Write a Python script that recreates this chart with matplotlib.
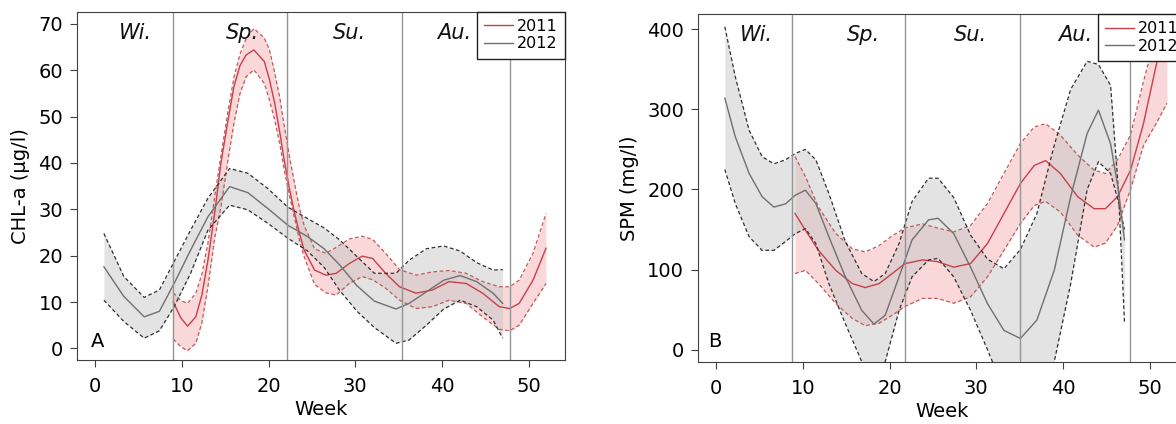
import matplotlib
matplotlib.use("Agg")
import matplotlib.pyplot as plt

# ---- panel A: CHL-a (ug/l) ----
chl_12_wk = [1, 3.3, 5.65, 7.4, 9.1, 11, 13, 15.5, 17.6, 19.9, 22.2, 24.5, 26.4, 28.2, 30.2, 32.2, 34.7, 36.2, 38.2, 40.2, 42.1, 44, 45.9, 47]
chl_12_mid = [17.6, 11.2, 6.8, 8.0, 14, 21.2, 28.4, 34.9, 33.6, 30.2, 26.6, 24.1, 21.5, 18.0, 13.5, 10.2, 8.5, 9.7, 12.2, 14.7, 15.7, 14.4, 11.9, 9.7]
chl_12_up = [24.8, 15.5, 11, 12.6, 18.7, 25.5, 32.4, 38.8, 37.8, 34.5, 30.5, 28.0, 26.0, 23.4, 19.8, 16.2, 16.2, 19.0, 21.5, 22.1, 21.0, 18.5, 16.9, 17]
chl_12_lo = [10.4, 5.8, 2.2, 3.8, 9, 16.2, 25.5, 30.9, 29.9, 27.0, 23.8, 21.0, 17.5, 12.5, 8.0, 4.5, 1.1, 1.8, 5.0, 8.5, 10.4, 9.0, 6.1, 2.2]

chl_11_wk = [9, 9.9, 10.65, 11.6, 12.3, 13, 13.8, 14.5, 15.3, 16, 16.7, 17.4, 18.3, 19.5, 20.1, 20.7, 21.3, 21.8, 22.4, 23, 23.6, 24.1, 25.3, 26.6, 27.8, 29.3, 30.8, 32, 33.5, 35.1, 37, 38.9, 40.8, 42.8, 44.7, 46.6, 47.8, 48.9, 50.5, 52]
chl_11_mid = [10, 6.5, 4.8, 6.8, 11.5, 19, 29.5, 40, 49, 56.5, 61, 63.3, 64.4, 61.9, 58, 52.9, 46.5, 40.6, 34.5, 29.1, 24.6, 21.2, 16.9, 15.8, 16.2, 18.3, 19.9, 19.4, 16.2, 13.3, 11.9, 12.6, 14.4, 14.0, 11.9, 9.0, 8.6, 9.7, 14.7, 21.6]
chl_11_up = [12, 10.3, 9.7, 11.9, 16, 22.7, 33, 41.5, 51, 58.5, 63.5, 66.8, 69, 67, 64.4, 59.5, 54, 48, 41.5, 35.5, 30, 26.5, 21.5, 20.5, 21.8, 23.6, 24.2, 23.5, 20.5, 17.0, 15.8, 16.5, 16.8, 16.2, 14.4, 13.3, 13.3, 14.7, 20.5, 29.1]
chl_11_lo = [2.0, 0.3, -0.5, 1.1, 5.5, 13.3, 24, 30.5, 40.5, 48.6, 55, 58.6, 60.1, 57.2, 53.5, 49.3, 44, 38.5, 33, 28, 23, 19.8, 13.8, 12.0, 11.5, 14.0, 15.5, 14.8, 13.0, 10.4, 8.6, 9.0, 10.4, 9.7, 6.8, 4.1, 3.8, 5.0, 9.7, 14.0]

# ---- panel B: SPM (mg/l) ----
spm_12_wk = [1, 2.2, 3.8, 5.3, 6.65, 8, 9.15, 10.3, 11.5, 13, 14.9, 16.8, 18.2, 19.5, 21.1, 22.6, 24.5, 25.6, 27.4, 29.35, 31.3, 33.2, 35.1, 37, 39, 40.9, 42.8, 44.1, 45.5, 46.4, 47.1]
spm_12_mid = [314, 266, 220, 191, 178, 182, 193, 199, 182.5, 141, 91, 49, 32, 43, 91, 137, 162, 164, 145, 103, 57.5, 24, 14, 37, 99, 191, 270, 299, 257, 200, 137]
spm_12_up = [403, 341, 274, 241, 232, 237, 245, 250, 237, 195, 135, 95, 85, 95, 132.5, 185, 214, 214, 190, 143, 113, 101, 125, 170, 255, 325, 360, 356, 330, 200, 35]
spm_12_lo = [225, 182.5, 141, 124, 124, 135, 145, 151, 132.5, 82.5, 32.5, -15, -40, -15, 49, 91, 112, 114, 91, 49, 0, -50, -85, -75, -15, 82.5, 200, 234.6, 220, 185, 150]

spm_11_wk = [9.1, 10.3, 11.8, 13.8, 15.7, 17.2, 18.8, 20.3, 21.8, 23.8, 25.5, 27.4, 29.35, 31.3, 33.2, 35.1, 36.7, 38, 39.7, 41.7, 43.6, 44.9, 46.3, 47.8, 49.3, 50.9, 52]
spm_11_mid = [170, 149, 124, 99, 82.5, 77.5, 82.5, 95, 107.5, 112, 110, 103, 107.5, 132.5, 170, 207.5, 230, 236, 220, 191, 176, 176, 191, 224, 282.5, 362, 430]
spm_11_up = [241, 216, 178, 145, 126, 122, 130, 142, 152, 157, 152, 147, 155, 182.5, 220, 257.5, 278, 282, 268, 243, 224, 220, 237, 268, 335, 400, 470]
spm_11_lo = [95, 99, 82.5, 57.5, 39, 30, 33, 43, 54, 64, 64, 58, 66, 91, 124, 157.5, 180, 185, 172, 143, 128, 133, 155, 200, 255, 285, 307.5]

season_names = ["Wi.", "Sp.", "Su.", "Au."]
season_pos = [4.7, 17, 29.35, 41.4]
bounds_a = [9.0, 22.07, 35.4, 47.9]
bounds_b = [8.77, 21.75, 35.1, 47.7]

RED = "#c8404a"
RED_D = "#c05a5a"
GREY = "#707070"
GREY_D = "#303030"


def panel(ax, wk11, mid11, up11, lo11, wk12, mid12, up12, lo12, bounds, ylim, yticks, ylabel, letter, lx, ly):
    # 2011 first, 2012 band sits over it
    ax.fill_between(wk11, lo11, up11, color="#f7b9bb", alpha=0.55, lw=0)
    ax.plot(wk11, up11, color=RED_D, ls="--", lw=0.9, dashes=(3, 2))
    ax.plot(wk11, lo11, color=RED_D, ls="--", lw=0.9, dashes=(3, 2))
    ax.plot(wk11, mid11, color=RED, lw=1.0, label="2011")
    ax.fill_between(wk12, lo12, up12, color="#c8c8c8", alpha=0.5, lw=0)
    ax.plot(wk12, up12, color=GREY_D, ls="--", lw=0.9, dashes=(3, 2))
    ax.plot(wk12, lo12, color=GREY_D, ls="--", lw=0.9, dashes=(3, 2))
    ax.plot(wk12, mid12, color=GREY, lw=1.0, label="2012")

    for b in bounds:
        ax.axvline(b, color="#959595", lw=1.0)
    for name, p in zip(season_names, season_pos):
        ax.text(p, 0.94, name, transform=ax.get_xaxis_transform(), ha="center", va="center",
                fontsize=15, style="italic", color="#111111")

    ax.text(lx, ly, letter, transform=ax.transAxes, ha="left", va="center", fontsize=14)

    ax.set_xlim(-2.1, 54.2)
    ax.set_ylim(*ylim)
    ax.set_xticks([0, 10, 20, 30, 40, 50])
    ax.set_yticks(yticks)
    ax.set_xlabel("Week", fontsize=14, labelpad=3)
    ax.set_ylabel(ylabel, fontsize=14, labelpad=6)
    ax.tick_params(labelsize=14, length=5, color="#404040")
    ax.tick_params(axis="x", pad=7)
    ax.tick_params(axis="y", pad=5)
    for s in ax.spines.values():
        s.set_color("#404040")
    leg = ax.legend(loc="upper right", fontsize=11.5, handlelength=1.8, handletextpad=0.25,
                    borderaxespad=0, fancybox=False, framealpha=1, edgecolor="#202020",
                    labelspacing=0.15, borderpad=0.45)
    leg.get_frame().set_linewidth(1.0)


fig = plt.figure(figsize=(11.76, 4.24), dpi=100)
ax1 = fig.add_axes([0.0655, 0.151, 0.415, 0.821])
ax2 = fig.add_axes([0.5935, 0.146, 0.415, 0.821])

panel(ax1, chl_11_wk, chl_11_mid, chl_11_up, chl_11_lo, chl_12_wk, chl_12_mid, chl_12_up, chl_12_lo,
      bounds_a, (-2.5, 72.6), [0, 10, 20, 30, 40, 50, 60, 70], "CHL-a (µg/l)", "A", 0.028, 0.053)
panel(ax2, spm_11_wk, spm_11_mid, spm_11_up, spm_11_lo, spm_12_wk, spm_12_mid, spm_12_up, spm_12_lo,
      bounds_b, (-15.5, 419), [0, 100, 200, 300, 400], "SPM (mg/l)", "B", 0.02, 0.058)

fig.savefig("out.png", dpi=100)
